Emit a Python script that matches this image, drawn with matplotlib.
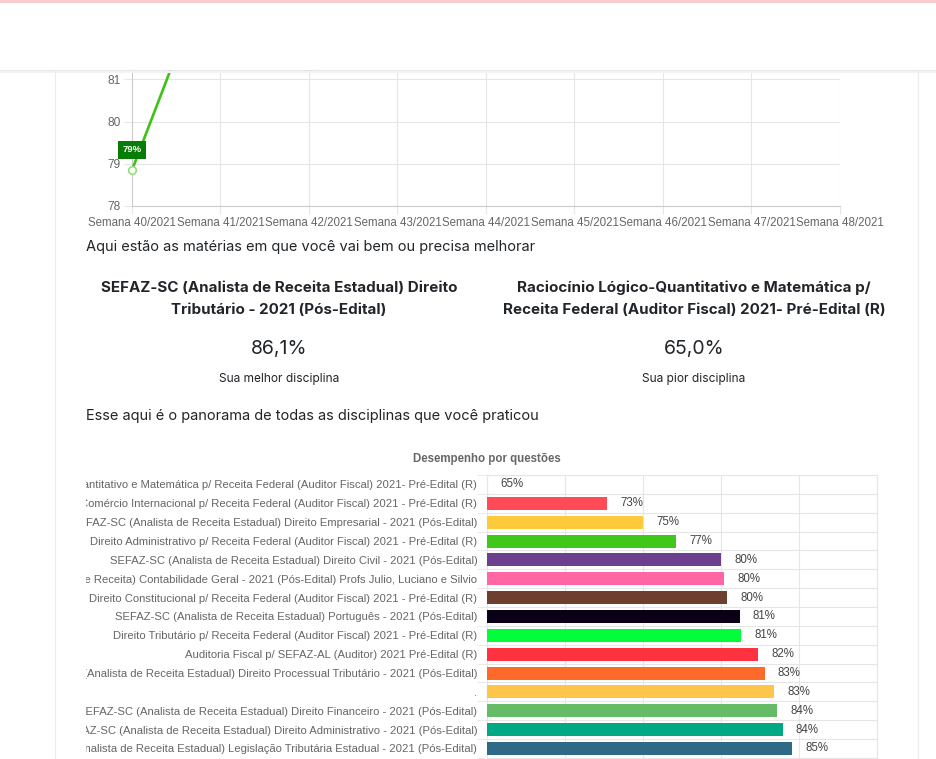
import matplotlib.pyplot as plt
from matplotlib.patches import Rectangle
from matplotlib.lines import Line2D

W, H = 937, 759

# line chart data (weekly performance)
semanas = ['Semana 40/2021', 'Semana 41/2021', 'Semana 42/2021', 'Semana 43/2021',
           'Semana 44/2021', 'Semana 45/2021', 'Semana 46/2021', 'Semana 47/2021',
           'Semana 48/2021']
desempenho_semana = [78.85, 84.3, 81.3]

# best / worst
melhor_nome = 'SEFAZ-SC (Analista de Receita Estadual) Direito\nTributário - 2021 (Pós-Edital)'
melhor_valor = '86,1%'
pior_nome = 'Raciocínio Lógico-Quantitativo e Matemática p/\nReceita Federal (Auditor Fiscal) 2021- Pré-Edital (R)'
pior_valor = '65,0%'

# bar chart data
disciplinas = [
    'Raciocínio Lógico-Quantitativo e Matemática p/ Receita Federal (Auditor Fiscal) 2021- Pré-Edital (R)',
    'Comércio Internacional p/ Receita Federal (Auditor Fiscal) 2021 - Pré-Edital (R)',
    'SEFAZ-SC (Analista de Receita Estadual) Direito Empresarial - 2021 (Pós-Edital)',
    'Direito Administrativo p/ Receita Federal (Auditor Fiscal) 2021 - Pré-Edital (R)',
    'SEFAZ-SC (Analista de Receita Estadual) Direito Civil - 2021 (Pós-Edital)',
    'SEFAZ-SC (Analista de Receita) Contabilidade Geral - 2021 (Pós-Edital) Profs Julio, Luciano e Silvio',
    'Direito Constitucional p/ Receita Federal (Auditor Fiscal) 2021 - Pré-Edital (R)',
    'SEFAZ-SC (Analista de Receita Estadual) Português - 2021 (Pós-Edital)',
    'Direito Tributário p/ Receita Federal (Auditor Fiscal) 2021 - Pré-Edital (R)',
    'Auditoria Fiscal p/ SEFAZ-AL (Auditor) 2021 Pré-Edital (R)',
    'SEFAZ-SC (Analista de Receita Estadual) Direito Processual Tributário - 2021 (Pós-Edital)',
    '.',
    'SEFAZ-SC (Analista de Receita Estadual) Direito Financeiro - 2021 (Pós-Edital)',
    'SEFAZ-SC (Analista de Receita Estadual) Direito Administrativo - 2021 (Pós-Edital)',
    'SEFAZ-SC (Analista de Receita Estadual) Legislação Tributária Estadual - 2021 (Pós-Edital)',
]
valores = [65.0, 72.7, 75.0, 77.1, 80.0, 80.2, 80.4, 81.2, 81.3, 82.4, 82.8, 83.4, 83.6, 83.95, 84.55]
cores = ['#36a2eb', '#ff4b57', '#ffc93c', '#3fc71a', '#6c3f8f', '#ff66a3', '#6e3f2e', '#0a0116',
         '#00ff3a', '#ff333f', '#ff6a2b', '#ffc54a', '#66bb66', '#00a884', '#2e6a85']

chart_font = 'Liberation Sans'
page_font = 'Inter'


def fx(x):
    return x / W


def fy(y):
    return 1 - y / H


def px_axes(left, top, right, bottom):
    return [fx(left), fy(bottom), (right - left) / W, (bottom - top) / H]


fig = plt.figure(figsize=(W / 100, H / 100), dpi=100)
fig.patch.set_facecolor('white')

# ---- line chart ----
ax1 = fig.add_axes(px_axes(132, 70, 840, 206))
xs = list(range(len(desempenho_semana)))
ax1.plot(xs, desempenho_semana, color='#3cc314', lw=1.9, zorder=3)
ax1.plot(xs, desempenho_semana, 'o', ms=5.5, mfc='white', mec='#8fe07a', mew=1.2, zorder=4,
         clip_on=False)
ax1.annotate('79%', (0, desempenho_semana[0]), xytext=(0, 14.5), textcoords='offset points',
             ha='center', va='center', color='white', fontsize=6.8, fontweight='bold',
             family=chart_font, zorder=5,
             bbox=dict(boxstyle='square,pad=0.45', fc='#077d07', ec='none'))
ax1.set_xlim(0, len(semanas) - 1)
ax1.set_ylim(78, 81.22)
ax1.set_xticks(range(len(semanas)))
ax1.set_xticklabels(semanas, family=chart_font, fontsize=8.3, color='#666666')
ax1.set_yticks([78, 79, 80, 81])
ax1.set_yticklabels(['78', '79', '80', '81'], family=chart_font, fontsize=8.6, color='#666666')
ax1.grid(True, color='#e6e6e6', lw=0.8)
ax1.tick_params(length=6, color='#e6e6e6', pad=2)
for s in ['top', 'right']:
    ax1.spines[s].set_visible(False)
for s in ['left', 'bottom']:
    ax1.spines[s].set_color('#cccccc')
ax1.set_axisbelow(True)

# ---- page texts ----
txt = dict(family=page_font, color='#212529')
fig.text(fx(86), fy(247), 'Aqui estão as matérias em que você vai bem ou precisa melhorar',
         fontsize=10.5, va='center', ha='left', **txt)
fig.text(fx(279), fy(299), melhor_nome, fontsize=10.9, fontweight='bold', ha='center',
         va='center', linespacing=1.75, **txt)
fig.text(fx(694), fy(299), pior_nome, fontsize=10.9, fontweight='bold', ha='center',
         va='center', linespacing=1.75, **txt)
fig.text(fx(279), fy(349), melhor_valor, fontsize=14, ha='center', va='center', **txt)
fig.text(fx(694), fy(349), pior_valor, fontsize=14, ha='center', va='center', **txt)
fig.text(fx(279), fy(379), 'Sua melhor disciplina', fontsize=8.6, ha='center', va='center', **txt)
fig.text(fx(694), fy(379), 'Sua pior disciplina', fontsize=8.6, ha='center', va='center', **txt)
fig.text(fx(86), fy(416), 'Esse aqui é o panorama de todas as disciplinas que você praticou',
         fontsize=10.5, va='center', ha='left', **txt)

# ---- bar chart ----
fig.text(fx(487), fy(459), 'Desempenho por questões', family=chart_font, fontsize=8.3,
         fontweight='bold', color='#666666', ha='center', va='center')
n = len(disciplinas)
ax2 = fig.add_axes(px_axes(487, 475, 877, 475 + 18.86 * n))
ys = list(range(n))
ax2.barh(ys, [v - 65 for v in valores], left=65, height=0.69, color=cores, lw=0, zorder=3)
for y, v in zip(ys, valores):
    ax2.annotate(f'{round(v)}%', (v, y), xytext=(9.5, 0), textcoords='offset points',
                 ha='left', va='center', family=chart_font, fontsize=8.3, color='#444444')
ax2.set_xlim(65, 90)
ax2.set_ylim(n - 0.5, -0.5)
ax2.set_xticks([65, 70, 75, 80, 85, 90])
ax2.set_xticklabels([])
ax2.set_yticks(ys)
ax2.set_yticklabels(disciplinas, family=chart_font, fontsize=8.15, color='#666666')
ax2.set_yticks([y + 0.5 for y in range(-1, n)], minor=True)
ax2.tick_params(axis='y', which='major', length=0, pad=7)
ax2.tick_params(axis='y', which='minor', length=7, color='#e6e6e6')
ax2.tick_params(axis='x', length=0)
ax2.grid(True, axis='x', color='#e6e6e6', lw=0.8)
ax2.grid(True, axis='y', which='minor', color='#e6e6e6', lw=0.8)
for s in ax2.spines.values():
    s.set_color('#e6e6e6')
ax2.set_axisbelow(True)

# ---- page chrome ----
# clip the long labels at the canvas edge
fig.add_artist(Rectangle((0, 0), fx(86), fy(465), transform=fig.transFigure,
                         fc='white', ec='none', zorder=10))
# header band
fig.add_artist(Rectangle((0, fy(70)), 1, 70 / H, transform=fig.transFigure,
                         fc='white', ec='none', zorder=10))
fig.add_artist(Rectangle((0, fy(3)), 1, 3 / H, transform=fig.transFigure,
                         fc='#f6cccc', ec='none', zorder=11))
fig.add_artist(Line2D([0, 1], [fy(70.5), fy(70.5)], transform=fig.transFigure,
                      color='#e4e4e4', lw=1.2, zorder=11))
fig.add_artist(Line2D([0, 1], [fy(72), fy(72)], transform=fig.transFigure,
                      color='#f3f3f3', lw=1.5, zorder=11))
# card borders
for x in (55, 918):
    fig.add_artist(Line2D([fx(x), fx(x)], [0, fy(71)], transform=fig.transFigure,
                          color='#ececec', lw=0.8, zorder=11))

fig.savefig('out.png', dpi=100)
